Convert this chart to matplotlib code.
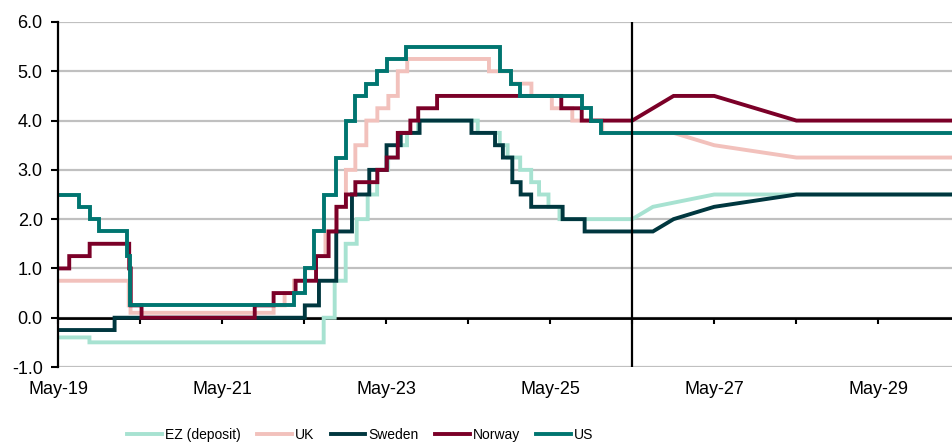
import matplotlib
matplotlib.use('Agg')
import matplotlib.pyplot as plt
import pandas as pd

plt.rcParams['font.family'] = ['Liberation Sans', 'DejaVu Sans']

# Policy rates: dates of each change and the new level
ez_dates = ['2019-05-01', '2019-09-18', '2022-07-27', '2022-09-14', '2022-11-02', '2022-12-21',
            '2023-02-08', '2023-03-22', '2023-05-10', '2023-06-21', '2023-08-02', '2023-09-20',
            '2024-06-12', '2024-09-18', '2024-10-23', '2024-12-18', '2025-02-05', '2025-03-12',
            '2025-04-23', '2025-06-11']
ez_rates = [-0.4, -0.5, 0.0, 0.75, 1.5, 2.0, 2.5, 3.0, 3.25, 3.5, 3.75, 4.0,
            3.75, 3.5, 3.25, 3.0, 2.75, 2.5, 2.25, 2.0]

uk_dates = ['2019-05-01', '2020-03-11', '2020-03-19', '2021-12-16', '2022-02-03', '2022-03-17',
            '2022-05-05', '2022-06-16', '2022-08-04', '2022-09-22', '2022-11-03', '2022-12-15',
            '2023-02-02', '2023-03-23', '2023-05-11', '2023-06-22', '2023-08-03', '2024-08-01',
            '2024-11-07', '2025-02-06', '2025-05-08', '2025-08-07', '2025-12-18']
uk_rates = [0.75, 0.25, 0.1, 0.25, 0.5, 0.75, 1.0, 1.25, 1.75, 2.25, 3.0, 3.5,
            4.0, 4.25, 4.5, 5.0, 5.25, 5.0, 4.75, 4.5, 4.25, 4.0, 3.75]

se_dates = ['2019-05-01', '2020-01-08', '2022-05-04', '2022-07-06', '2022-09-21', '2022-11-30',
            '2023-02-15', '2023-05-03', '2023-07-05', '2023-09-27', '2024-05-15', '2024-08-28',
            '2024-10-02', '2024-11-13', '2024-12-20', '2025-02-05', '2025-06-25', '2025-10-01']
se_rates = [-0.25, 0.0, 0.25, 0.75, 1.75, 2.5, 3.0, 3.5, 3.75, 4.0, 3.75, 3.5,
            3.25, 2.75, 2.5, 2.25, 2.0, 1.75]

no_dates = ['2019-05-01', '2019-06-20', '2019-09-19', '2020-03-13', '2020-03-20', '2020-05-07',
            '2021-09-23', '2021-12-16', '2022-03-24', '2022-06-23', '2022-08-18', '2022-09-22',
            '2022-11-03', '2022-12-15', '2023-03-23', '2023-05-04', '2023-06-22', '2023-08-17',
            '2023-09-21', '2023-12-14', '2025-06-19', '2025-09-18']
no_rates = [1.0, 1.25, 1.5, 1.0, 0.25, 0.0, 0.25, 0.5, 0.75, 1.25, 1.75, 2.25,
            2.5, 2.75, 3.0, 3.25, 3.75, 4.0, 4.25, 4.5, 4.25, 4.0]

us_dates = ['2019-05-01', '2019-08-01', '2019-09-19', '2019-10-31', '2020-03-04', '2020-03-16',
            '2022-03-17', '2022-05-05', '2022-06-16', '2022-07-28', '2022-09-22', '2022-11-03',
            '2022-12-15', '2023-02-02', '2023-03-23', '2023-05-04', '2023-07-27', '2024-09-19',
            '2024-11-08', '2024-12-19', '2025-09-18', '2025-10-30', '2025-12-11']
us_rates = [2.5, 2.25, 2.0, 1.75, 1.25, 0.25, 0.5, 1.0, 1.75, 2.5, 3.25, 4.0,
            4.5, 4.75, 5.0, 5.25, 5.5, 5.0, 4.75, 4.5, 4.25, 4.0, 3.75]

# Forecast points (joined with straight lines, last level held to the end)
forecast_start = '2026-05-01'
ez_fc_dates = ['2026-05-01', '2026-08-01', '2027-05-01']
ez_fc = [2.0, 2.25, 2.5]
uk_fc_dates = ['2026-05-01', '2026-11-01', '2027-05-01', '2028-05-01']
uk_fc = [3.75, 3.75, 3.5, 3.25]
se_fc_dates = ['2026-05-01', '2026-08-01', '2026-11-01', '2027-05-01', '2028-05-01']
se_fc = [1.75, 1.75, 2.0, 2.25, 2.5]
no_fc_dates = ['2026-05-01', '2026-11-01', '2027-05-01', '2028-05-01']
no_fc = [4.0, 4.5, 4.5, 4.0]
us_fc_dates = ['2026-05-01']
us_fc = [3.75]

names = ['EZ (deposit)', 'UK', 'Sweden', 'Norway', 'US']
colors = ['#a7e2d1', '#f2c1bc', '#00373f', '#7b0028', '#007570']

x_start = '2019-05-01'
x_end = '2030-03-25'
label_years = ['2019-05-01', '2021-05-01', '2023-05-01', '2025-05-01', '2027-05-01', '2029-05-01']
label_text = ['May-19', 'May-21', 'May-23', 'May-25', 'May-27', 'May-29']


def build_line(dates, rates, fdates, frates):
    """Step history up to the forecast start, then straight forecast segments"""
    d = pd.to_datetime(dates)
    xs, ys = [], []
    for i, r in enumerate(rates):
        xs.append(d[i])
        ys.append(r)
        nxt = d[i + 1] if i + 1 < len(d) else pd.Timestamp(forecast_start)
        xs.append(nxt)
        ys.append(r)
    for dd, r in zip(pd.to_datetime(fdates), frates):
        xs.append(dd)
        ys.append(r)
    xs.append(pd.Timestamp(x_end))
    ys.append(frates[-1])
    return xs, ys


fig = plt.figure(figsize=(9.53, 4.43), dpi=100)
ax = fig.add_axes([58 / 953, 1 - 367 / 443, 1 - 58 / 953 - 0.001, (367 - 22) / 443])

series = [(ez_dates, ez_rates, ez_fc_dates, ez_fc), (uk_dates, uk_rates, uk_fc_dates, uk_fc),
          (se_dates, se_rates, se_fc_dates, se_fc), (no_dates, no_rates, no_fc_dates, no_fc),
          (us_dates, us_rates, us_fc_dates, us_fc)]
for (dts, rts, fdts, fc), name, col in zip(series, names, colors):
    xs, ys = build_line(dts, rts, fdts, fc)
    ax.plot(xs, ys, color=col, lw=2.8, label=name, solid_joinstyle='miter', zorder=3)

ax.set_ylim(-1, 6)
ax.set_xlim(pd.Timestamp(x_start), pd.Timestamp(x_end))
ax.set_yticks(range(-1, 7))
ax.set_yticklabels([f'{v:.1f}' for v in range(-1, 7)], fontsize=13)
ax.yaxis.grid(True, color='#c0c0c0', lw=1.6)
ax.set_axisbelow(True)

ax.set_xticks(pd.to_datetime(label_years))
ax.set_xticklabels(label_text, fontsize=13)
ax.tick_params(axis='x', length=0, pad=10)
ax.tick_params(axis='y', length=5, width=1.5, pad=6, direction='out')

for s in ['top', 'right', 'bottom']:
    ax.spines[s].set_visible(False)
ax.spines['left'].set_linewidth(1.6)
ax.spines['left'].set_zorder(4)

# zero line carries the yearly tick marks
zero_ax = ax.secondary_xaxis(1 / 7)
zero_ax.set_xticks(pd.date_range('2019-05-01', '2030-01-01', freq='12MS'))
zero_ax.set_xticklabels([])
zero_ax.tick_params(length=4, width=1.5, direction='out')
zero_ax.spines['bottom'].set_linewidth(1.8)
ax.axhline(0, color='black', lw=1.8, zorder=2)

ax.axvline(pd.Timestamp(forecast_start), color='black', lw=1.6, zorder=4)

fig.legend(loc='center', bbox_to_anchor=(0.378, 1 - 435 / 443), ncol=5, frameon=False,
           prop={'size': 10}, handlelength=2.5, handletextpad=0.2, columnspacing=1.2)

fig.savefig('out.png', dpi=100)
